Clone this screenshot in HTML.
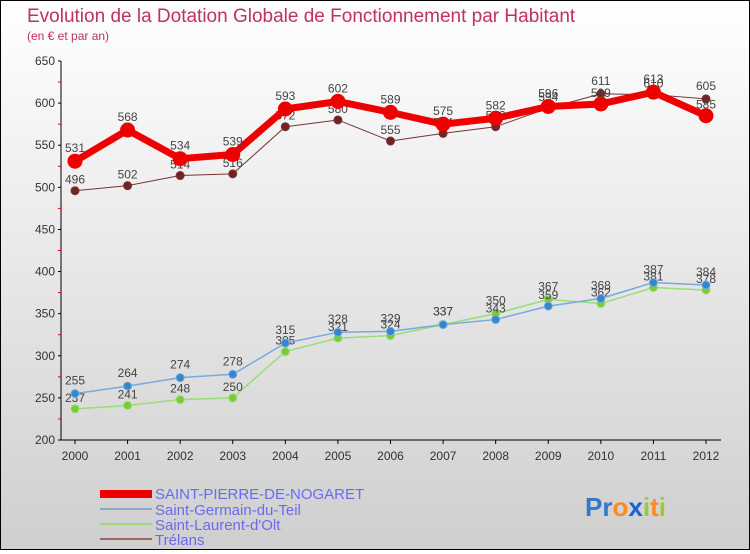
<!DOCTYPE html>
<html><head><meta charset="utf-8"><style>
body{margin:0;width:750px;height:550px;overflow:hidden;font-family:"Liberation Sans",sans-serif}
#wrap{position:relative;width:748px;height:548px;border:1px solid #000;background:linear-gradient(#ffffff,#cfcfcf)}
</style></head><body>
<div id="wrap">
<svg id="c" width="748" height="548" xmlns="http://www.w3.org/2000/svg">
<text x="26" y="21" font-size="19" fill="#c03060">Evolution de la Dotation Globale de Fonctionnement par Habitant</text>
<text x="26" y="39" font-size="12" fill="#c03060">(en € et par an)</text>
<g id="axes"></g><g id="series"></g>
<g>
<rect x="99" y="489" width="52" height="8" fill="#ee0000"/>
<text x="154" y="498" font-size="15" fill="#6a6aee">SAINT-PIERRE-DE-NOGARET</text>
<line x1="99" y1="508" x2="151" y2="508" stroke="#88aacc" stroke-width="2"/>
<text x="154" y="514" font-size="15" fill="#6a6aee">Saint-Germain-du-Teil</text>
<line x1="99" y1="523" x2="151" y2="523" stroke="#99dd77" stroke-width="2"/>
<text x="154" y="529" font-size="15" fill="#6a6aee">Saint-Laurent-d'Olt</text>
<line x1="99" y1="538" x2="151" y2="538" stroke="#996666" stroke-width="2"/>
<text x="154" y="544" font-size="15" fill="#6a6aee">Trélans</text>
</g>
<text x="584" y="515" font-size="26" font-weight="bold"><tspan fill="#3377cc">Pr</tspan><tspan fill="#ff8822">o</tspan><tspan fill="#1166cc">x</tspan><tspan fill="#99cc33">i</tspan><tspan fill="#ff8822">t</tspan><tspan fill="#99cc33">i</tspan></text>
</svg></div>
<script>
const years=["2000","2001","2002","2003","2004","2005","2006","2007","2008","2009","2010","2011","2012"];
const yTicks=[200,250,300,350,400,450,500,550,600,650];
const spn=[531,568,534,539,593,602,589,575,582,596,599,613,585];
const sgdt=[255,264,274,278,315,328,329,337,343,359,368,387,384];
const sldo=[237,241,248,250,305,321,324,337,350,367,362,381,378];
const trelans=[496,502,514,516,572,580,555,564,572,594,611,610,605];
const NS="http://www.w3.org/2000/svg";
const X0=74,X1=705,Y0=439,Y1=60,VMIN=200,VMAX=650;
const xs=i=>X0+(X1-X0)*i/(years.length-1);
const ys=v=>Y0-(v-VMIN)*(Y0-Y1)/(VMAX-VMIN);
function mk(t,a,p){const e=document.createElementNS(NS,t);for(const k in a)e.setAttribute(k,a[k]);p.appendChild(e);return e;}
const ax=document.getElementById('axes');
let yl=mk('line',{x1:60,y1:Y1,x2:60,y2:Y0,stroke:'#000'},ax);


let xl=mk('line',{x1:60,y1:Y0,x2:720,y2:Y0,stroke:'#000'},ax);


yTicks.forEach(v=>{
 mk('line',{x1:57,y1:ys(v),x2:60,y2:ys(v),stroke:'#000'},ax);
 if(v<650) mk('line',{x1:57,y1:ys(v+25),x2:60,y2:ys(v+25),stroke:'#e00'},ax);
 const t=mk('text',{x:54,y:ys(v)+4,'font-size':12,'text-anchor':'end',fill:'#333'},ax);t.textContent=v;
 
 
});
years.forEach((y,i)=>{
 mk('line',{x1:xs(i),y1:Y0,x2:xs(i),y2:Y0+4,stroke:'#000'},ax);
 const t=mk('text',{x:xs(i),y:Y0+20,'font-size':12,'text-anchor':'middle',fill:'#333'},ax);t.textContent=y;
 
 
});
const sg=document.getElementById('series');
function draw(data,name,color,w,r,fill,others){
 const g=mk('g',{},sg);
 
 
 mk('polyline',{points:data.map((v,i)=>xs(i)+','+ys(v)).join(' '),fill:'none',stroke:color,'stroke-width':w,'stroke-linejoin':'round'},g);
 data.forEach((v,i)=>{
  const c=mk('circle',{cx:xs(i),cy:ys(v),r:r,fill:fill,stroke:color,'stroke-width':1},g);
  
  
  const above=others.every(o=>v>=o[i]);
  const t=mk('text',{x:xs(i),y:ys(v)-(above?9:7),'font-size':12,'text-anchor':'middle',fill:'#444'},g);
  t.textContent=v;
  
  
 });
}
draw(trelans,'trelans','#773333',1,4,'#772222',[spn]);
draw(spn,'saint-pierre-de-nogaret','#ee0000',7,7,'#ee0000',[trelans]);
draw(sldo,'saint-laurent-dolt','#99dd77',1.5,4,'#77cc33',[sgdt]);
draw(sgdt,'saint-germain-du-teil','#77aadd',1.5,4,'#3388cc',[sldo]);
</script>
</body></html>
